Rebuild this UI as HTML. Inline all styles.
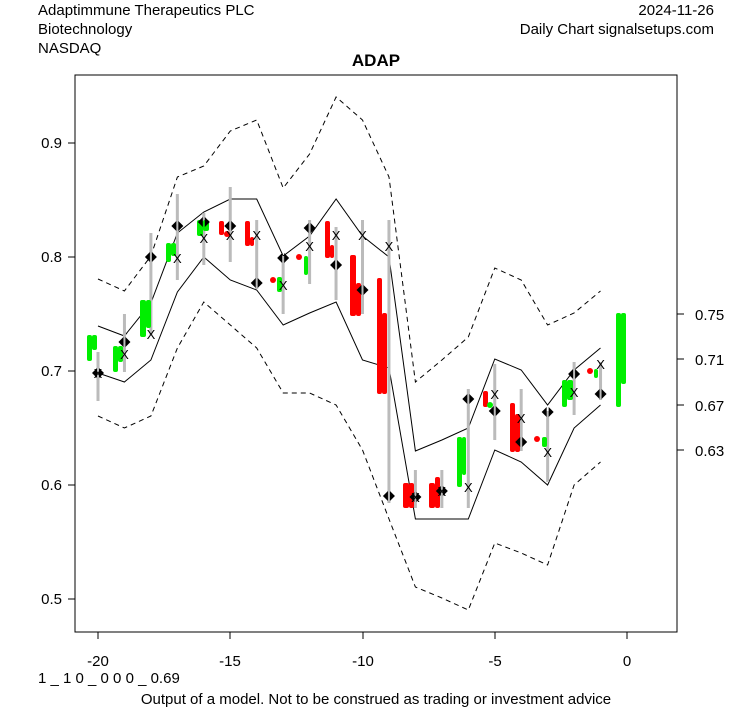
<!DOCTYPE html>
<html><head><meta charset="utf-8"><style>
body{margin:0;background:#fff;width:753px;height:708px;overflow:hidden}
svg text{font-family:"Liberation Sans",Arial,sans-serif;fill:#000}
</style></head><body>
<svg id="s" width="753" height="708" viewBox="0 0 753 708" xmlns="http://www.w3.org/2000/svg">
<rect width="753" height="708" fill="#fff"/>
<text x="38" y="15" font-size="15">Adaptimmune Therapeutics PLC</text>
<text x="38" y="34" font-size="15">Biotechnology</text>
<text x="38" y="53" font-size="15">NASDAQ</text>
<text x="714" y="15" font-size="15" text-anchor="end">2024-11-26</text>
<text x="714" y="34" font-size="15" text-anchor="end">Daily Chart signalsetups.com</text>
<text x="376" y="66" font-size="17" font-weight="bold" text-anchor="middle">ADAP</text>
<rect x="75" y="75" width="602" height="557" fill="none" stroke="#000"/>
<g font-size="15" text-anchor="end">
<text x="62" y="148">0.9</text><text x="62" y="262">0.8</text><text x="62" y="376">0.7</text><text x="62" y="490">0.6</text><text x="62" y="604">0.5</text>
</g>
<g stroke="#000"><line x1="68" y1="143" x2="75" y2="143"/><line x1="68" y1="257" x2="75" y2="257"/><line x1="68" y1="371" x2="75" y2="371"/><line x1="68" y1="485" x2="75" y2="485"/><line x1="68" y1="599" x2="75" y2="599"/>
<line x1="98" y1="632" x2="98" y2="639"/><line x1="230" y1="632" x2="230" y2="639"/><line x1="363" y1="632" x2="363" y2="639"/><line x1="495" y1="632" x2="495" y2="639"/><line x1="627" y1="632" x2="627" y2="639"/>
<line x1="677" y1="314" x2="684" y2="314"/><line x1="677" y1="359" x2="684" y2="359"/><line x1="677" y1="405" x2="684" y2="405"/><line x1="677" y1="450" x2="684" y2="450"/></g>
<g font-size="15" text-anchor="middle">
<text x="98" y="666">-20</text><text x="230" y="666">-15</text><text x="363" y="666">-10</text><text x="495" y="666">-5</text><text x="627" y="666">0</text></g>
<g font-size="15"><text x="695" y="320">0.75</text><text x="695" y="365">0.71</text><text x="695" y="411">0.67</text><text x="695" y="456">0.63</text></g>
<text x="38" y="683" font-size="15">1 _ 1 0 _ 0 0 0 _ 0.69</text>
<text x="376" y="704" font-size="15" text-anchor="middle">Output of a model. Not to be construed as trading or investment advice</text>
<g id="d"></g>
</svg>
<script>
var X=i=>627+i*26.45;
var up=[326,336,303,233,212,199,199,256,236,199,236,257,451,440,428,359,370,405,370,348];
var lo=[373,382,360,292,257,280,290,325,313,302,360,368,519,519,519,450,462,485,428,405];
var du=[279,291,256,177,166,131,120,188,154,97,120,177,382,360,337,268,280,325,313,291];
var dl=[416,428,416,348,302,325,348,393,393,405,450,519,587,598,610,543,553,565,485,462];
function pl(a,d){return '<polyline fill="none" stroke="#000" stroke-width="1"'+(d?' stroke-dasharray="5,4"':'')+' points="'+a.map((y,k)=>X(k-20).toFixed(1)+','+y).join(' ')+'"/>';}
var h=pl(up)+pl(lo)+pl(du,1)+pl(dl,1);
var C=[
[-20,'#0e0',[[87,91,335,361],[92,96,335,350]],null,[352,401],373,373],
[-19,'#0e0',[[113,117,346,372],[118,122,346,362]],null,[314,372],342,354],
[-18,'#0e0',[[140,145,300,337],[146,150,300,328]],null,[233,335],257,334],
[-17,'#0e0',[[166,170,243,262],[171,175,243,256]],null,[194,280],226,258],
[-16,'#0e0',[[197,202,220,236],[203,208,220,231]],null,[213,265],222,238],
[-15,'red',[[219,223,221,235]],[227,234,'red'],[187,262],226,235],
[-14,'red',[[245,249,221,246],[250,253,237,246]],null,[220,289],283,235],
[-13,'#0e0',[[277,281,277,292]],[273,280,'red'],[256,314],258,285],
[-12,'#0e0',[[304,307,256,275]],[299,257,'red'],[220,284],228,246],
[-11,'red',[[325,329,221,258],[330,333,245,258]],null,[227,300],265,235],
[-10,'red',[[350,355,255,316],[356,360,283,316]],null,[220,314],290,235],
[-9,'red',[[377,381,278,394],[382,386,313,394]],null,[220,503],496,246],
[-8,'red',[[403,408,483,508],[409,413,483,508]],null,[470,508],497,497],
[-7,'red',[[429,434,483,508],[435,439,477,508]],null,[470,508],491,491],
[-6,'#0e0',[[457,461,437,487],[462,465,437,475]],null,[389,508],399,487],
[-5,'red',[[483,487,391,407]],[490,405,'#0e0'],[364,440],411,394],
[-4,'red',[[510,514,403,452],[515,519,414,452]],null,[389,451],442,418],
[-3,'#0e0',[[542,546,437,447]],[537,439,'red'],[411,482],412,452],
[-2,'#0e0',[[562,566,380,407],[567,572,380,400]],null,[362,415],374,392],
[-1,'#0e0',[[594,597,369,378]],[590,371,'red'],[362,400],394,364],
[0,'#0e0',[[616,620,313,407],[621,625,313,384]],null,null,null,null]];
C.forEach(c=>{var x=X(c[0]);
 if(c[4])h+='<line x1="'+x+'" x2="'+x+'" y1="'+c[4][0]+'" y2="'+c[4][1]+'" stroke="#bbb" stroke-width="3"/>';
 c[2].forEach(b=>{h+='<rect x="'+b[0]+'" y="'+b[2]+'" width="'+(b[1]-b[0]+1)+'" height="'+(b[3]-b[2])+'" rx="2" fill="'+c[1]+'"/>';});
 if(c[3])h+='<circle cx="'+c[3][0]+'" cy="'+c[3][1]+'" r="3" fill="'+c[3][2]+'"/>';
 if(c[5]!=null){var y=c[5];h+='<polygon points="'+(x-6)+','+y+' '+(x-1)+','+(y-5)+' '+(x-1)+','+(y+5)+'" fill="#000"/><polygon points="'+(x+6)+','+y+' '+(x+1)+','+(y-5)+' '+(x+1)+','+(y+5)+'" fill="#000"/>';}
 if(c[6]!=null)h+='<text x="'+x+'" y="'+(c[6]+5)+'" font-size="13" text-anchor="middle" fill="#223">X</text>';
});
document.getElementById('d').innerHTML=h;
</script>
</body></html>
